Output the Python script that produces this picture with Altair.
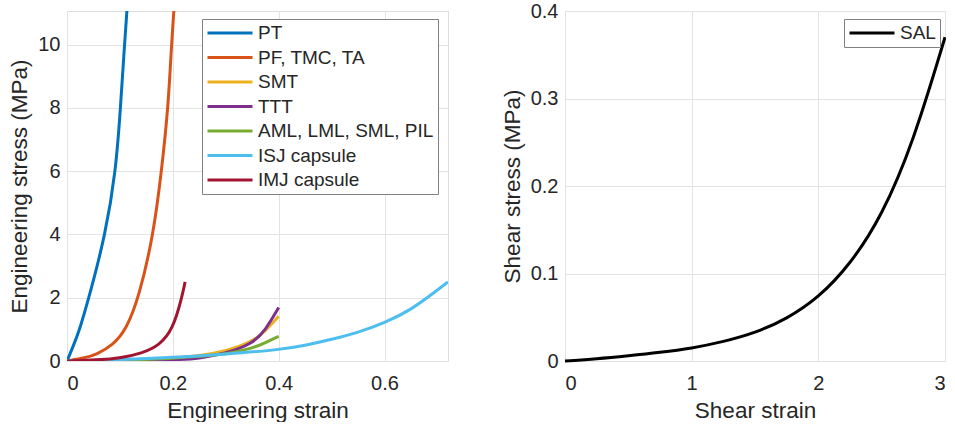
import altair as alt
import pandas as pd

# ---- Data ----
names = ["PT", "PF, TMC, TA", "SMT", "TTT", "AML, LML, SML, PIL", "ISJ capsule", "IMJ capsule"]
colors = ["#0072BD", "#D95319", "#EDB120", "#7E2F8E", "#77AC30", "#4DBEEE", "#A2142F"]

pt_x = [0, 0.0126, 0.024, 0.0415, 0.0727, 0.0923, 0.1011, 0.1087, 0.1132]
pt_y = [0, 0.5, 1.0, 2.0, 4.0, 6.0, 8.0, 10.0, 11.06]

pf_x = [0, 0.035, 0.055, 0.0868, 0.112, 0.1358, 0.1635, 0.1786, 0.1912, 0.1975, 0.2019]
pf_y = [0, 0.1, 0.2, 0.5, 1.0, 2.0, 4.0, 6.0, 8.0, 10.0, 11.06]

smt_x = [0, 0.1, 0.2, 0.25, 0.3, 0.35, 0.375, 0.4]
smt_y = [0, 0.02, 0.08, 0.16, 0.31, 0.60, 0.95, 1.41]

ttt_x = [0, 0.1, 0.2, 0.25, 0.3, 0.35, 0.375, 0.4]
ttt_y = [0, 0.0, 0.03, 0.08, 0.24, 0.54, 0.97, 1.69]

aml_x = [0, 0.1, 0.2, 0.25, 0.3, 0.35, 0.375, 0.4]
aml_y = [0, 0.02, 0.08, 0.15, 0.21, 0.40, 0.58, 0.78]

isj_x = [0, 0.1, 0.2, 0.3, 0.4, 0.45, 0.5, 0.55, 0.6, 0.65, 0.7, 0.72]
isj_y = [0, 0.04, 0.11, 0.22, 0.35, 0.49, 0.68, 0.90, 1.20, 1.61, 2.24, 2.50]

imj_x = [0, 0.06, 0.1025, 0.143, 0.175, 0.200, 0.217, 0.2232]
imj_y = [0, 0.03, 0.10, 0.25, 0.50, 1.00, 2.00, 2.50]

sal_x = [0, 0.25, 0.5, 0.75, 1.0, 1.25, 1.5, 1.75, 2.0, 2.25, 2.5, 2.75, 3.0]
sal_y = [0, 0.0025, 0.006, 0.0098, 0.0145, 0.022, 0.032, 0.048, 0.072, 0.110, 0.165, 0.25, 0.37]

series_xy = [(pt_x, pt_y), (pf_x, pf_y), (smt_x, smt_y), (ttt_x, ttt_y),
             (aml_x, aml_y), (isj_x, isj_y), (imj_x, imj_y)]

rows = []
for i, (name, (xs, ys)) in enumerate(zip(names, series_xy)):
    for j, (xv, yv) in enumerate(zip(xs, ys)):
        rows.append({"series": name, "strain": xv, "stress": yv, "k": j})
df = pd.DataFrame(rows)

df_sal = pd.DataFrame({"series": "SAL", "strain": sal_x, "stress": sal_y, "k": list(range(len(sal_x)))})

FONT = "Liberation Sans"
TXT = "#262626"
BOX = "#808080"

x_axis_common = dict(labelFontSize=20, titleFontSize=22.5, titleFontWeight="normal",
                     labelColor=TXT, titleColor=TXT, tickSize=0, domain=False,
                     labelPadding=12, titlePadding=6, gridColor="#e3e3e3",
                     labelFont=FONT, titleFont=FONT, format="~f")
y_axis_common = dict(labelFontSize=20, titleFontSize=22.5, titleFontWeight="normal",
                     labelColor=TXT, titleColor=TXT, tickSize=0, domain=False,
                     labelPadding=7, titlePadding=6, gridColor="#e3e3e3",
                     labelFont=FONT, titleFont=FONT, format="~f")

legend_common = dict(title=None, orient="none", legendY=8,
                     symbolType="stroke", symbolSize=2025, symbolStrokeWidth=3,
                     labelFontSize=19, labelFont=FONT, labelColor=TXT, labelLimit=400,
                     labelOffset=4, strokeColor=BOX, fillColor="white",
                     padding=4, rowPadding=4.5, clipHeight=20)

left = alt.Chart(df).mark_line(strokeWidth=3, clip=True, interpolate="basis").encode(
    x=alt.X("strain:Q", scale=alt.Scale(domain=[0, 0.72], nice=False),
            axis=alt.Axis(values=[0, 0.2, 0.4, 0.6], title="Engineering strain", **x_axis_common)),
    y=alt.Y("stress:Q", scale=alt.Scale(domain=[0, 11.06], nice=False),
            axis=alt.Axis(values=[0, 2, 4, 6, 8, 10], title="Engineering stress (MPa)", **y_axis_common)),
    color=alt.Color("series:N", scale=alt.Scale(domain=names, range=colors),
                    legend=alt.Legend(legendX=135, **legend_common)),
    order="k:Q",
).properties(width=381, height=350)

right = alt.Chart(df_sal).mark_line(strokeWidth=3, interpolate="basis").encode(
    x=alt.X("strain:Q", scale=alt.Scale(domain=[0, 3], nice=False),
            axis=alt.Axis(values=[0, 1, 2, 3], title="Shear strain", **x_axis_common)),
    y=alt.Y("stress:Q", scale=alt.Scale(domain=[0, 0.4], nice=False),
            axis=alt.Axis(values=[0, 0.1, 0.2, 0.3, 0.4], title="Shear stress (MPa)", **y_axis_common)),
    color=alt.Color("series:N", scale=alt.Scale(domain=["SAL"], range=["black"]),
                    legend=alt.Legend(legendX=279, **legend_common)),
    order="k:Q",
).properties(width=380, height=350)

chart = alt.hconcat(left, right, spacing=51).resolve_scale(color="independent").configure_view(
    stroke=BOX, strokeWidth=1
).configure(padding={"left": 8, "top": 0, "right": -6, "bottom": 0}, background="white")

chart.save("out.html", embed_options={"renderer": "svg", "actions": False})
